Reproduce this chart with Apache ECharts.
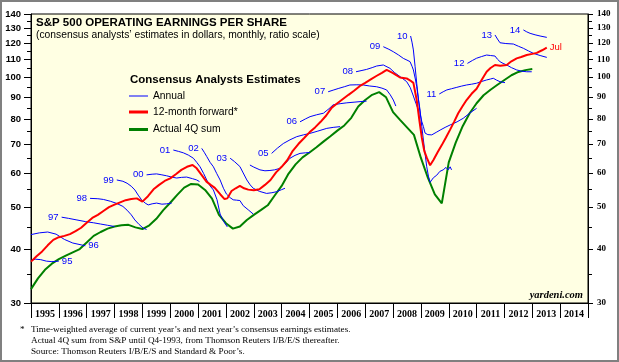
<!DOCTYPE html>
<html><head><meta charset="utf-8">
<script src="https://cdn.jsdelivr.net/npm/echarts@6/dist/echarts.min.js"></script>
<style>html,body{margin:0;padding:0;background:#fff}#c{width:619px;height:362px}</style>
</head><body><div id="c"></div>
<script>
// ---------- data ----------
const years = ['1995','1996','1997','1998','1999','2000','2001','2002','2003','2004','2005','2006','2007','2008','2009','2010','2011','2012','2013','2014'];
const xMin = 1995, xMax = 2015;
const yTicks = [30,40,50,60,70,80,90,100,110,120,130,140];
const yMinorTicks = [35,45,55,65,75,85,95,105,115,125,135];

const actual4Q = [[1995.0,32.3],[1995.25,34.2],[1995.5,35.8],[1995.75,37.0],[1996.0,37.9],[1996.25,38.6],[1996.5,39.3],[1996.75,40.0],[1997.0,41.4],[1997.25,42.9],[1997.5,43.8],[1997.75,44.6],[1998.0,45.1],[1998.25,45.4],[1998.5,45.5],[1998.75,44.9],[1999.0,44.5],[1999.25,45.4],[1999.5,47.0],[1999.75,49.2],[2000.0,51.2],[2000.25,53.4],[2000.5,55.5],[2000.75,56.6],[2001.0,56.4],[2001.25,54.8],[2001.5,52.3],[2001.75,48.0],[2002.0,45.9],[2002.25,44.6],[2002.5,45.1],[2002.75,46.7],[2003.0,48.0],[2003.25,49.2],[2003.5,50.5],[2003.75,53.2],[2004.0,56.0],[2004.25,59.8],[2004.5,62.8],[2004.75,65.2],[2005.0,66.9],[2005.25,68.8],[2005.5,70.9],[2005.75,73.0],[2006.0,75.2],[2006.25,77.3],[2006.5,80.5],[2006.75,85.5],[2007.0,88.5],[2007.25,91.0],[2007.5,92.3],[2007.75,89.8],[2008.0,83.0],[2008.25,79.6],[2008.5,76.5],[2008.75,73.5],[2009.0,65.0],[2009.25,58.5],[2009.5,53.5],[2009.75,51.0],[2010.0,63.5],[2010.25,70.5],[2010.5,77.0],[2010.75,82.5],[2011.0,87.0],[2011.25,90.8],[2011.5,93.5],[2011.75,96.0],[2012.0,98.5],[2012.25,101.0],[2012.5,102.8],[2012.75,103.8],[2013.0,104.4]];

const forward12m = [[1995.0,37.4],[1995.2,38.5],[1995.4,39.5],[1995.6,40.8],[1995.8,42.0],[1996.0,42.6],[1996.2,42.9],[1996.4,43.3],[1996.6,44.0],[1996.8,44.8],[1997.0,46.0],[1997.2,47.2],[1997.4,48.0],[1997.6,49.0],[1997.8,50.0],[1998.0,50.7],[1998.2,51.3],[1998.4,51.9],[1998.6,52.2],[1998.8,52.4],[1999.0,51.5],[1999.2,53.0],[1999.4,55.0],[1999.6,56.3],[1999.8,57.5],[2000.0,58.3],[2000.2,59.6],[2000.4,61.0],[2000.6,62.0],[2000.8,62.6],[2000.95,61.5],[2001.13,59.3],[2001.3,57.3],[2001.45,56.3],[2001.6,55.4],[2001.8,53.5],[2001.95,52.2],[2002.05,52.4],[2002.2,54.5],[2002.35,55.3],[2002.5,56.0],[2002.65,55.3],[2002.8,54.9],[2003.0,54.7],[2003.2,55.0],[2003.4,56.3],[2003.6,57.8],[2003.8,60.2],[2004.0,62.0],[2004.2,64.2],[2004.4,67.5],[2004.6,70.0],[2004.8,72.2],[2005.0,74.5],[2005.2,76.5],[2005.4,78.8],[2005.6,81.5],[2005.8,85.0],[2006.0,87.0],[2006.2,89.0],[2006.4,91.0],[2006.6,93.0],[2006.8,95.3],[2007.0,97.0],[2007.2,98.8],[2007.4,100.6],[2007.6,102.3],[2007.77,103.9],[2008.0,102.2],[2008.25,99.8],[2008.49,99.3],[2008.62,98.2],[2008.73,97.0],[2008.85,88.5],[2008.95,79.0],[2009.03,72.6],[2009.12,67.5],[2009.21,65.1],[2009.33,62.5],[2009.45,64.3],[2009.6,67.0],[2009.75,69.6],[2009.9,72.5],[2010.04,75.4],[2010.2,79.0],[2010.34,82.5],[2010.5,85.7],[2010.64,88.5],[2010.82,91.5],[2011.0,94.0],[2011.18,98.5],[2011.36,102.9],[2011.5,105.0],[2011.66,106.7],[2011.85,106.2],[2012.08,106.7],[2012.25,108.8],[2012.44,110.5],[2012.6,111.3],[2012.8,112.5],[2013.0,113.2],[2013.16,113.8],[2013.35,115.4],[2013.52,117.0]];

const est95 = [[1995.0,37.6],[1995.15,37.9],[1995.35,37.8],[1995.55,37.5],[1995.75,37.4],[1996.0,37.5]];
const est96 = [[1995.0,43.2],[1995.3,43.6],[1995.6,43.8],[1995.9,43.3],[1996.2,42.1],[1996.5,41.3],[1996.8,40.9],[1996.95,40.7]];
const est97 = [[1996.1,47.4],[1996.35,47.1],[1996.65,46.7],[1996.95,46.3],[1997.25,46.0],[1997.5,45.7],[1997.75,45.4],[1998.0,45.1]];
const est98 = [[1997.12,52.4],[1997.4,52.3],[1997.6,52.1],[1997.85,51.6],[1998.08,51.0],[1998.3,50.2],[1998.45,49.2],[1998.6,48.0],[1998.73,46.7],[1998.88,45.6],[1999.03,44.7],[1999.15,44.4]];
const est99 = [[1998.08,57.8],[1998.3,57.4],[1998.45,56.8],[1998.6,55.9],[1998.73,54.8],[1998.85,53.3],[1998.97,52.0],[1999.1,51.1],[1999.21,50.6],[1999.35,50.9],[1999.51,51.1],[1999.7,50.8],[1999.87,50.9],[2000.05,51.1]];
const est00 = [[1999.15,59.4],[1999.35,59.6],[1999.51,59.7],[1999.7,59.4],[1999.87,59.1],[2000.05,58.7],[2000.23,58.4],[2000.4,58.6],[2000.59,58.7],[2000.8,58.2],[2000.95,57.8],[2001.05,57.3]];
const est01 = [[2000.11,67.8],[2000.3,67.3],[2000.47,66.8],[2000.65,66.0],[2000.83,64.9],[2000.95,63.5],[2001.07,62.0],[2001.2,59.8],[2001.31,57.8],[2001.43,56.0],[2001.55,54.8],[2001.68,52.0],[2001.79,48.2],[2001.92,46.3],[2002.05,45.0]];
const est02 = [[2001.13,68.4],[2001.22,67.0],[2001.31,65.5],[2001.43,63.5],[2001.55,62.0],[2001.67,59.8],[2001.79,57.8],[2001.91,55.3],[2002.02,53.6],[2002.15,52.6],[2002.26,52.0],[2002.38,51.9],[2002.5,51.8],[2002.62,50.4],[2002.8,49.3],[2002.98,48.2]];
const est03 = [[2002.15,64.9],[2002.3,63.8],[2002.5,62.1],[2002.62,60.0],[2002.75,57.8],[2002.87,56.3],[2002.98,55.3],[2003.2,54.4],[2003.46,53.8],[2003.65,54.0],[2003.82,54.3],[2004.0,54.9],[2004.12,55.3]];
const est04 = [[2002.86,62.6],[2003.0,61.9],[2003.22,61.0],[2003.4,60.7],[2003.58,60.8],[2003.75,61.0],[2003.94,61.5],[2004.12,63.0],[2004.3,64.9],[2004.48,65.9],[2004.66,66.6],[2004.85,66.8],[2005.02,66.9]];
const est05 = [[2003.64,66.6],[2003.85,68.5],[2004.06,70.2],[2004.3,71.6],[2004.54,72.8],[2004.78,73.5],[2005.02,74.1],[2005.3,75.0],[2005.62,76.1],[2005.85,76.5],[2006.1,76.8]];
const est06 = [[2004.66,78.8],[2004.85,80.0],[2005.02,81.0],[2005.25,81.8],[2005.5,82.5],[2005.7,84.5],[2005.85,86.3],[2006.1,86.8],[2006.34,87.2],[2006.6,87.5],[2006.85,87.8],[2007.05,88.0]];
const est07 = [[2005.67,92.5],[2005.85,93.3],[2006.03,94.1],[2006.25,95.0],[2006.45,95.9],[2006.7,96.0],[2006.93,95.9],[2007.15,95.4],[2007.41,95.0],[2007.6,94.3],[2007.77,93.4],[2007.9,91.0],[2008.01,88.5],[2008.1,85.7]];
const est08 = [[2006.67,102.9],[2006.85,103.5],[2007.05,104.2],[2007.25,105.2],[2007.41,106.1],[2007.65,106.7],[2007.89,104.8],[2008.05,102.5],[2008.25,100.3],[2008.49,97.6],[2008.62,94.5],[2008.73,90.4],[2008.82,87.0],[2008.91,83.9],[2008.97,78.0],[2009.03,73.5]];
const est09 = [[2007.65,117.6],[2007.85,116.0],[2008.01,114.5],[2008.2,112.5],[2008.37,110.5],[2008.5,109.5],[2008.61,108.6],[2008.68,106.0],[2008.73,103.9],[2008.8,99.0],[2008.85,95.0],[2008.91,89.0],[2008.97,83.9],[2009.03,77.0],[2009.09,71.5],[2009.15,66.5],[2009.21,62.0],[2009.27,59.0],[2009.33,57.1],[2009.45,58.5],[2009.57,59.3],[2009.68,60.5],[2009.8,61.0],[2009.9,61.8],[2009.98,61.0],[2010.05,62.0],[2010.1,61.0]];
const est10 = [[2008.63,124.5],[2008.68,120.5],[2008.73,115.6],[2008.79,106.0],[2008.85,96.8],[2008.91,89.0],[2008.97,82.5],[2009.03,79.0],[2009.09,76.8],[2009.15,74.2],[2009.25,73.6],[2009.39,73.5],[2009.55,74.5],[2009.69,75.4],[2009.87,76.5],[2010.05,77.5],[2010.3,78.8],[2010.52,80.3],[2010.75,82.5],[2011.0,84.7]];
const est11 = [[2009.66,91.4],[2009.8,92.5],[2009.93,93.4],[2010.1,94.0],[2010.29,94.7],[2010.45,95.3],[2010.64,95.9],[2010.82,96.3],[2011.0,96.8],[2011.18,97.7],[2011.36,98.5],[2011.5,99.0],[2011.6,99.4],[2011.72,98.4],[2011.84,97.6],[2012.02,97.1]];
const est12 = [[2010.67,107.6],[2010.85,109.3],[2011.0,110.6],[2011.18,111.6],[2011.36,112.5],[2011.5,112.2],[2011.66,111.9],[2011.75,110.0],[2011.84,108.6],[2011.95,107.6],[2012.08,106.7],[2012.25,105.2],[2012.44,103.9],[2012.62,103.2],[2012.8,102.9],[2012.98,102.9]];
const est13 = [[2011.66,125.2],[2011.75,122.5],[2011.84,120.1],[2012.05,119.6],[2012.32,119.3],[2012.5,117.9],[2012.68,116.6],[2012.86,115.0],[2013.04,113.5],[2013.28,112.2],[2013.52,111.1]];
const est14 = [[2012.68,128.6],[2012.8,127.3],[2012.92,126.3],[2013.1,125.3],[2013.28,124.5],[2013.52,123.6]];

const annualLabels = ['95','96','97','98','99','00','01','02','03','04','05','06','07','08','09','10','11','12','13','14'];
const annualData = [est95,est96,est97,est98,est99,est00,est01,est02,est03,est04,est05,est06,est07,est08,est09,est10,est11,est12,est13,est14];
const annualLabelSide = ['end','end','start','start','start','start','start','start','start','none','start','start','start','start','start','start','start','start','start','start'];

// ---------- styles ----------
const BLUE = '#0000ff', RED = '#ff0000', GREEN = '#008000';
const SANS = "'Liberation Sans', Arial, sans-serif";
const SERIF = "'Liberation Serif', 'Times New Roman', serif";

function labelled(data, idx, text, pos, color) {
  return data.map((p, i) => i === idx ? {
    value: p, symbol: 'circle', symbolSize: 0,
    label: {show: true, formatter: text, position: pos, distance: 3, color: color, fontSize: 9.5, fontFamily: SANS}
  } : p);
}

const annualSeries = annualData.map((d, k) => {
  const side = annualLabelSide[k];
  let data = d;
  if (side === 'start') data = labelled(d, 0, annualLabels[k], 'left', BLUE);
  else if (side === 'end') data = labelled(d, d.length - 1, annualLabels[k], 'right', BLUE);
  return {
    type: 'line', name: 'Annual', xAxisIndex: 1, yAxisIndex: 0, data: data,
    symbol: 'none', showSymbol: true, silent: true, z: 3,
    lineStyle: {color: BLUE, width: 1}, itemStyle: {color: BLUE}
  };
});

const series = [
  {type: 'line', name: 'Actual 4Q sum', xAxisIndex: 1, yAxisIndex: 0, data: actual4Q,
   symbol: 'none', silent: true, z: 2, lineStyle: {color: GREEN, width: 2}, itemStyle: {color: GREEN}},
  ...annualSeries,
  {type: 'line', name: '12-month forward*', xAxisIndex: 1, yAxisIndex: 0,
   data: labelled(forward12m, forward12m.length - 1, 'Jul', 'right', RED),
   symbol: 'none', showSymbol: true, silent: true, z: 4, lineStyle: {color: RED, width: 2}, itemStyle: {color: RED}},
  {type: 'custom', xAxisIndex: 1, yAxisIndex: 0, silent: true, clip: false, z: 5,
   data: yMinorTicks.map(v => [xMin, v]),
   renderItem: function (params, api) {
     const v = api.value(1);
     const l = api.coord([xMin, v]);
     const r = api.coord([xMax, v]);
     const yl = Math.round(l[1]) + 0.5, yr = Math.round(r[1]) + 0.5;
     return {type: 'group', children: [
       {type: 'line', shape: {x1: l[0] - 4, y1: yl, x2: l[0], y2: yl}, style: {stroke: '#000', lineWidth: 1}},
       {type: 'line', shape: {x1: r[0], y1: yr, x2: r[0] + 4, y2: yr}, style: {stroke: '#000', lineWidth: 1}}
     ]};
   }}
];

const legendBase = {left: 129, itemWidth: 19, icon: 'rect', padding: 0, selectedMode: false,
  textStyle: {fontSize: 10.3, color: '#000', fontFamily: SANS, lineHeight: 12}};

const chart = echarts.init(document.getElementById('c'), null, {renderer: 'canvas'});
chart.setOption({
  animation: false,
  backgroundColor: '#fff',
  textStyle: {fontFamily: SANS},
  grid: {left: 31, right: 31, top: 14, bottom: 59, show: true, backgroundColor: '#FFFFE3', borderColor: '#000', borderWidth: 1},
  title: [
    {text: 'S&P 500 OPERATING EARNINGS PER SHARE', left: 36, top: 17, padding: 0,
     textStyle: {fontSize: 11.5, fontWeight: 'bold', fontFamily: SANS, color: '#000'}},
    {text: '(consensus analysts’ estimates in dollars, monthly, ratio scale)', left: 36, top: 30.5, padding: 0,
     textStyle: {fontSize: 10.3, fontWeight: 'normal', fontFamily: SANS, color: '#000'}},
    {text: 'Consensus Analysts Estimates', left: 130, top: 74, padding: 0,
     textStyle: {fontSize: 11.5, fontWeight: 'bold', fontFamily: SANS, color: '#000'}},
    {text: '*', left: 20, top: 325, padding: 0,
     textStyle: {fontSize: 9.2, fontWeight: 'normal', fontFamily: SERIF, color: '#000'}},
    {text: 'Time-weighted average of current year’s and next year’s consensus earnings estimates.\nActual 4Q sum from S&P until Q4-1993, from Thomson Reuters I/B/E/S thereafter.\nSource: Thomson Reuters I/B/E/S and Standard & Poor’s.',
     left: 31, top: 324.5, padding: 0,
     textStyle: {fontSize: 9.2, lineHeight: 11, fontWeight: 'normal', fontFamily: SERIF, color: '#000'}},
    {text: 'yardeni.com', right: 36, top: 290, padding: 0,
     textStyle: {fontSize: 10.5, fontWeight: 'bold', fontStyle: 'italic', fontFamily: SERIF, color: '#000'}}
  ],
  legend: [
    Object.assign({}, legendBase, {data: ['Annual'], top: 90, itemHeight: 1}),
    Object.assign({}, legendBase, {data: ['12-month forward*'], top: 106, itemHeight: 3}),
    Object.assign({}, legendBase, {data: ['Actual 4Q sum'], top: 123.5, itemHeight: 3})
  ],
  xAxis: [
    {type: 'category', data: years, position: 'bottom', boundaryGap: true,
     axisLine: {show: true, lineStyle: {color: '#000', width: 1}},
     axisTick: {show: true, interval: 0, length: 15, lineStyle: {color: '#000'}},
     axisLabel: {interval: 0, margin: 6, fontSize: 10, fontWeight: 'bold', fontFamily: SERIF, color: '#000'},
     splitLine: {show: false}},
    {type: 'value', min: xMin, max: xMax, show: false}
  ],
  yAxis: [
    {type: 'log', logBase: 10, min: 30, max: 140, position: 'left',
     axisLine: {show: true, lineStyle: {color: '#000'}},
     axisTick: {show: true, length: 7, customValues: yTicks, lineStyle: {color: '#000'}},
     axisLabel: {customValues: yTicks, margin: 10, fontSize: 9.5, fontWeight: 'bold',
       fontFamily: "'Liberation Sans Narrow', 'Arial Narrow', sans-serif", color: '#000'},
     splitLine: {show: false}, minorTick: {show: false}},
    {type: 'log', logBase: 10, min: 30, max: 140, position: 'right',
     axisLine: {show: true, lineStyle: {color: '#000'}},
     axisTick: {show: true, length: 5, customValues: yTicks, lineStyle: {color: '#000'}},
     axisLabel: {customValues: yTicks, margin: 9, fontSize: 9, fontWeight: 'bold', fontFamily: SERIF, color: '#000'},
     splitLine: {show: false}, minorTick: {show: false}}
  ],
  graphic: [
    {type: 'rect', silent: true, z: 100, shape: {x: 1, y: 1, width: 617, height: 360},
     style: {fill: null, stroke: '#808080', lineWidth: 2}}
  ],
  series: series
});
</script>
</body></html>
